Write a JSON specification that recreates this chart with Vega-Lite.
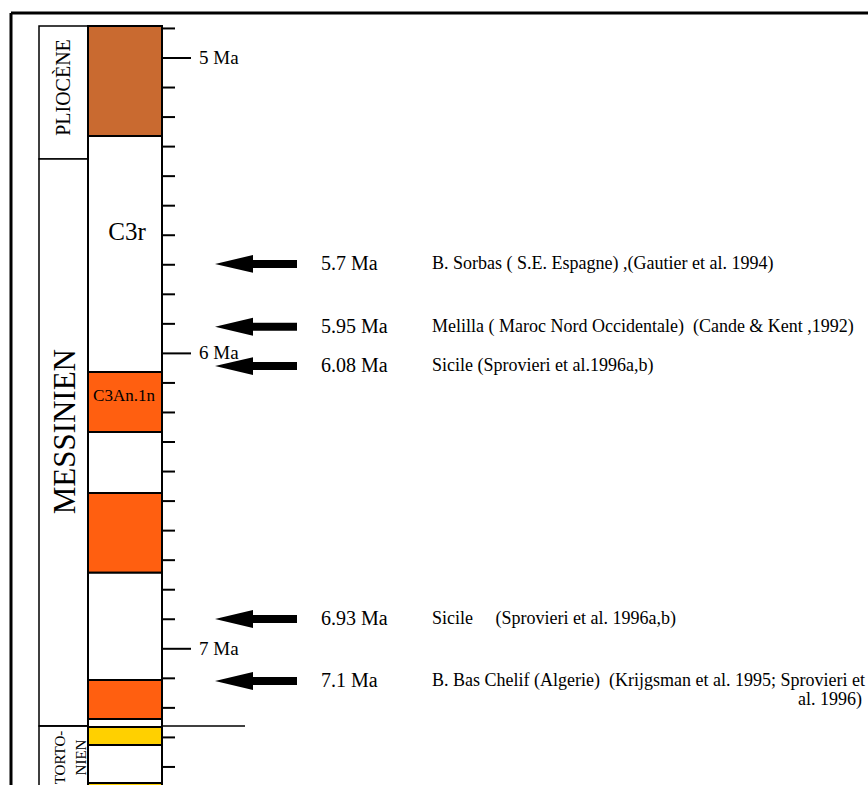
{
  "$schema": "https://vega.github.io/schema/vega-lite/v6.json",
  "width": 868,
  "height": 785,
  "autosize": {"type": "none"},
  "padding": 0,
  "background": "white",
  "config": {"view": {"stroke": null}, "text": {"font": "Liberation Serif", "color": "black"}},
  "datasets": {
    "stages": [
      {"stage": "PLIOCÈNE", "start": 4.892, "end": 5.342},
      {"stage": "MESSINIEN", "start": 5.342, "end": 7.261},
      {"stage": "TORTO-\nNIEN", "start": 7.261, "end": 7.6}
    ],
    "stage_labels": [
      {"stage": "PLIOCÈNE", "age": 5.1, "group": "epoch"},
      {"stage": "MESSINIEN", "age": 6.265, "group": "big"},
      {"stage": "TORTO-\nNIEN", "age": 7.368, "group": "small"}
    ],
    "chrons": [
      {"start": 4.892, "end": 5.264, "kind": "normal (Pliocène)"},
      {"start": 5.264, "end": 6.063, "kind": "reverse"},
      {"start": 6.063, "end": 6.266, "kind": "normal"},
      {"start": 6.266, "end": 6.473, "kind": "reverse"},
      {"start": 6.473, "end": 6.743, "kind": "normal"},
      {"start": 6.743, "end": 7.106, "kind": "reverse"},
      {"start": 7.106, "end": 7.238, "kind": "normal"},
      {"start": 7.238, "end": 7.265, "kind": "reverse"},
      {"start": 7.265, "end": 7.326, "kind": "normal (Tortonien)"},
      {"start": 7.326, "end": 7.454, "kind": "reverse"},
      {"start": 7.454, "end": 7.6, "kind": "normal (Tortonien)"}
    ],
    "chron_labels": [
      {"chron": "C3r", "age": 5.59, "group": "big"},
      {"chron": "C3An.1n", "age": 6.145, "group": "small"}
    ],
    "ticks": [
      {"age": 4.9, "kind": "minor", "label": ""},
      {"age": 5.0, "kind": "major", "label": "5 Ma"},
      {"age": 5.1, "kind": "minor", "label": ""},
      {"age": 5.2, "kind": "minor", "label": ""},
      {"age": 5.3, "kind": "minor", "label": ""},
      {"age": 5.4, "kind": "minor", "label": ""},
      {"age": 5.5, "kind": "minor", "label": ""},
      {"age": 5.6, "kind": "minor", "label": ""},
      {"age": 5.7, "kind": "minor", "label": ""},
      {"age": 5.8, "kind": "minor", "label": ""},
      {"age": 5.9, "kind": "minor", "label": ""},
      {"age": 6.0, "kind": "major", "label": "6 Ma"},
      {"age": 6.1, "kind": "minor", "label": ""},
      {"age": 6.2, "kind": "minor", "label": ""},
      {"age": 6.3, "kind": "minor", "label": ""},
      {"age": 6.4, "kind": "minor", "label": ""},
      {"age": 6.5, "kind": "minor", "label": ""},
      {"age": 6.6, "kind": "minor", "label": ""},
      {"age": 6.7, "kind": "minor", "label": ""},
      {"age": 6.8, "kind": "minor", "label": ""},
      {"age": 6.9, "kind": "minor", "label": ""},
      {"age": 7.0, "kind": "major", "label": "7 Ma"},
      {"age": 7.1, "kind": "minor", "label": ""},
      {"age": 7.2, "kind": "minor", "label": ""},
      {"age": 7.3, "kind": "minor", "label": ""},
      {"age": 7.4, "kind": "minor", "label": ""}
    ],
    "events": [
      {"pos": 5.697, "age": "5.7 Ma", "site": "B. Sorbas ( S.E. Espagne) ,(Gautier et al. 1994)", "cont": ""},
      {"pos": 5.91, "age": "5.95 Ma", "site": "Melilla ( Maroc Nord Occidentale)\u00a0\u00a0(Cande & Kent ,1992)", "cont": ""},
      {"pos": 6.043, "age": "6.08 Ma", "site": "Sicile (Sprovieri et al.1996a,b)", "cont": ""},
      {"pos": 6.899, "age": "6.93 Ma", "site": "Sicile\u00a0\u00a0\u00a0\u00a0\u00a0(Sprovieri et al. 1996a,b)", "cont": ""},
      {"pos": 7.109, "age": "7.1 Ma", "site": "B. Bas Chelif (Algerie)\u00a0\u00a0(Krijgsman et al. 1995; Sprovieri et", "cont": "al. 1996)"}
    ],
    "frame": [{"top": 4.8477, "bottom": 7.4611}]
  },
  "layer": [
    {
      "data": {"name": "stages"},
      "mark": {"type": "rect", "fill": "white", "stroke": "black", "strokeWidth": 1.5, "clip": true},
      "encoding": {
        "x": {"datum": 39, "type": "quantitative", "scale": {"domain": [0, 868], "nice": false, "zero": false}, "axis": null},
        "x2": {"datum": 88},
        "y": {"field": "start", "type": "quantitative", "scale": {"domain": [4.8037, 7.4611], "reverse": true, "nice": false, "zero": false}, "axis": null},
        "y2": {"field": "end"}
      }
    },
    {
      "data": {"name": "stages"},
      "transform": [{"filter": "datum.stage == 'TORTO-\\nNIEN'"}],
      "mark": {"type": "rule", "stroke": "black", "strokeWidth": 1.5},
      "encoding": {
        "x": {"datum": 39, "type": "quantitative"},
        "x2": {"datum": 245},
        "y": {"field": "start", "type": "quantitative"}
      }
    },
    {
      "data": {"name": "chrons"},
      "mark": {"type": "rect", "stroke": "black", "strokeWidth": 2, "clip": true},
      "encoding": {
        "x": {"datum": 88, "type": "quantitative"},
        "x2": {"datum": 162},
        "y": {"field": "start", "type": "quantitative"},
        "y2": {"field": "end"},
        "fill": {"field": "kind", "type": "nominal", "legend": null,
          "scale": {"domain": ["normal (Pliocène)", "reverse", "normal", "normal (Tortonien)"], "range": ["#C96A30", "#FFFFFF", "#FF5F10", "#FFD000"]}}
      }
    },
    {
      "data": {"name": "ticks"},
      "transform": [{"filter": "datum.kind == 'minor'"}],
      "mark": {"type": "rule", "stroke": "black", "strokeWidth": 2},
      "encoding": {
        "x": {"datum": 162, "type": "quantitative"},
        "x2": {"datum": 175},
        "y": {"field": "age", "type": "quantitative"}
      }
    },
    {
      "data": {"name": "ticks"},
      "transform": [{"filter": "datum.kind == 'major'"}],
      "mark": {"type": "rule", "stroke": "black", "strokeWidth": 2},
      "encoding": {
        "x": {"datum": 162, "type": "quantitative"},
        "x2": {"datum": 191},
        "y": {"field": "age", "type": "quantitative"}
      }
    },
    {
      "data": {"name": "ticks"},
      "transform": [{"filter": "datum.kind == 'major'"}],
      "mark": {"type": "text", "align": "left", "baseline": "middle", "fontSize": 19},
      "encoding": {
        "x": {"datum": 199, "type": "quantitative"},
        "y": {"field": "age", "type": "quantitative"},
        "text": {"field": "label"}
      }
    },
    {
      "data": {"name": "chron_labels"},
      "transform": [{"filter": "datum.group == 'big'"}],
      "mark": {"type": "text", "align": "center", "baseline": "middle", "fontSize": 25},
      "encoding": {
        "x": {"datum": 127, "type": "quantitative"},
        "y": {"field": "age", "type": "quantitative"},
        "text": {"field": "chron"}
      }
    },
    {
      "data": {"name": "chron_labels"},
      "transform": [{"filter": "datum.group == 'small'"}],
      "mark": {"type": "text", "align": "center", "baseline": "middle", "fontSize": 17},
      "encoding": {
        "x": {"datum": 124, "type": "quantitative"},
        "y": {"field": "age", "type": "quantitative"},
        "text": {"field": "chron"}
      }
    },
    {
      "data": {"name": "stage_labels"},
      "transform": [{"filter": "datum.group == 'epoch'"}],
      "mark": {"type": "text", "align": "center", "baseline": "middle", "fontSize": 20, "angle": 270},
      "encoding": {
        "x": {"datum": 64, "type": "quantitative"},
        "y": {"field": "age", "type": "quantitative"},
        "text": {"field": "stage"}
      }
    },
    {
      "data": {"name": "stage_labels"},
      "transform": [{"filter": "datum.group == 'big'"}],
      "mark": {"type": "text", "align": "center", "baseline": "middle", "fontSize": 31, "angle": 270},
      "encoding": {
        "x": {"datum": 66, "type": "quantitative"},
        "y": {"field": "age", "type": "quantitative"},
        "text": {"field": "stage"}
      }
    },
    {
      "data": {"name": "stage_labels"},
      "transform": [{"filter": "datum.group == 'small'"}],
      "mark": {"type": "text", "align": "center", "baseline": "middle", "fontSize": 15, "angle": 270, "lineBreak": "\n", "lineHeight": 21},
      "encoding": {
        "x": {"datum": 60, "type": "quantitative"},
        "y": {"field": "age", "type": "quantitative"},
        "text": {"field": "stage"}
      }
    },
    {
      "data": {"name": "events"},
      "mark": {"type": "rule", "stroke": "black", "strokeWidth": 8, "strokeCap": "butt"},
      "encoding": {
        "x": {"datum": 248, "type": "quantitative"},
        "x2": {"datum": 297},
        "y": {"field": "pos", "type": "quantitative"}
      }
    },
    {
      "data": {"name": "events"},
      "mark": {"type": "point", "shape": "M -1 0 L 1 -0.47 L 1 0.47 Z", "filled": true, "color": "black", "opacity": 1, "size": 1444},
      "encoding": {
        "x": {"datum": 234, "type": "quantitative"},
        "y": {"field": "pos", "type": "quantitative"}
      }
    },
    {
      "data": {"name": "events"},
      "mark": {"type": "text", "align": "left", "baseline": "middle", "fontSize": 20},
      "encoding": {
        "x": {"datum": 321, "type": "quantitative"},
        "y": {"field": "pos", "type": "quantitative"},
        "text": {"field": "age"}
      }
    },
    {
      "data": {"name": "events"},
      "mark": {"type": "text", "align": "left", "baseline": "middle", "fontSize": 18},
      "encoding": {
        "x": {"datum": 432, "type": "quantitative"},
        "y": {"field": "pos", "type": "quantitative"},
        "text": {"field": "site"}
      }
    },
    {
      "data": {"name": "events"},
      "transform": [{"filter": "datum.cont != ''"}],
      "mark": {"type": "text", "align": "right", "baseline": "middle", "fontSize": 18, "dy": 19},
      "encoding": {
        "x": {"datum": 862, "type": "quantitative"},
        "y": {"field": "pos", "type": "quantitative"},
        "text": {"field": "cont"}
      }
    },
    {
      "data": {"name": "frame"},
      "mark": {"type": "rule", "stroke": "black", "strokeWidth": 3},
      "encoding": {
        "x": {"datum": 11, "type": "quantitative"},
        "x2": {"datum": 868},
        "y": {"field": "top", "type": "quantitative"}
      }
    },
    {
      "data": {"name": "frame"},
      "mark": {"type": "rule", "stroke": "black", "strokeWidth": 3},
      "encoding": {
        "x": {"datum": 11, "type": "quantitative"},
        "y": {"field": "top", "type": "quantitative"},
        "y2": {"field": "bottom"}
      }
    }
  ]
}
